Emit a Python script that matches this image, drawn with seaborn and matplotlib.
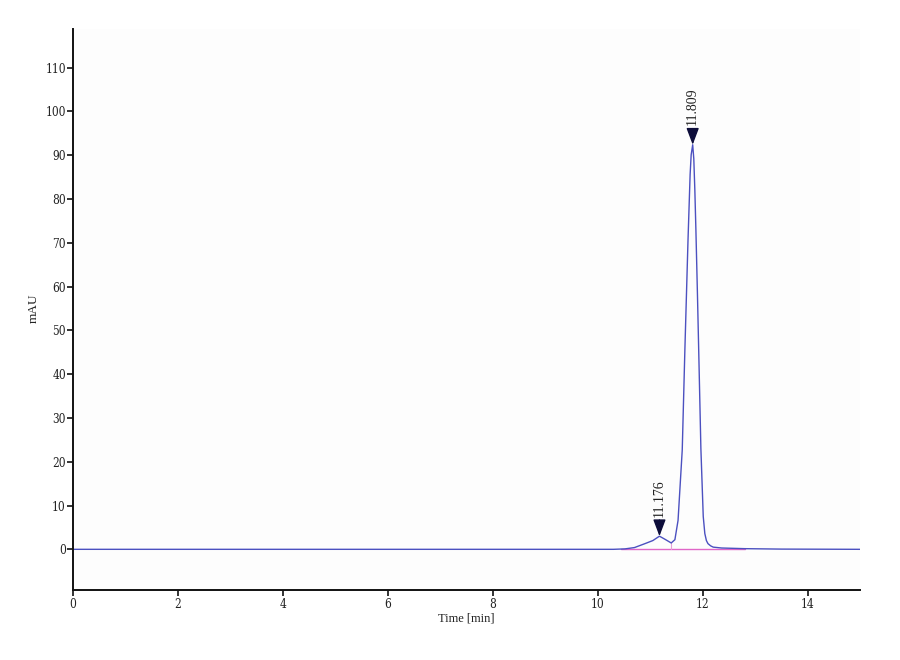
import numpy as np
import pandas as pd
import matplotlib
matplotlib.use("Agg")
import matplotlib.pyplot as plt
from matplotlib import font_manager as fm
import seaborn as sns

# ---- data ----
time_min = [0.0, 10.30, 10.52, 10.70, 10.90, 11.05, 11.176, 11.28, 11.40, 11.47,
            11.53, 11.61, 11.66, 11.72, 11.76, 11.78, 11.809, 11.83, 11.85, 11.87,
            11.90, 11.93, 11.965, 12.01, 12.04, 12.07, 12.10, 12.15, 12.20, 12.36,
            12.80, 13.50, 15.00]
signal_mau = [0.0, 0.0, 0.1, 0.4, 1.3, 2.0, 3.0, 2.3, 1.45, 2.2,
              6.6, 22.7, 45.5, 70.7, 85.6, 90.1, 92.4, 89.2, 82.0, 73.0,
              58.0, 42.0, 23.0, 7.5, 3.6, 2.0, 1.3, 0.8, 0.5, 0.3,
              0.15, 0.05, 0.0]
baseline_t = [10.45, 12.80]
baseline_v = [0.0, 0.0]
drop_t = [11.40, 11.40]
drop_v = [0.0, 1.45]
peak_times = [11.176, 11.809]
peak_heights = [3.0, 92.4]
peak_labels = ["11.176", "11.809"]
yticks = list(range(0, 111, 10))
xticks = list(range(0, 15, 2))

sns.set_theme(style="ticks")
plt.rcParams["font.family"] = ["Liberation Serif", "DejaVu Serif"]

# condensed serif for tick labels if available
cond_fp = None
for f in fm.fontManager.ttflist:
    fn = f.fname.lower()
    if "serif" in f.name.lower() and "condensed" in fn:
        if "bold" not in fn and "italic" not in fn and "oblique" not in fn:
            cond_fp = fm.FontProperties(fname=f.fname, size=8.5)
            break
if cond_fp is None:
    cond_fp = fm.FontProperties(family=["Liberation Serif", "DejaVu Serif"], size=9)

fig = plt.figure(figsize=(9, 6.6), dpi=100)
fig.patch.set_facecolor("white")
ax = fig.add_axes([0.0808, 0.106, 0.875, 0.8495])
ax.set_facecolor("#fdfdfd")

df = pd.DataFrame({"t": time_min, "v": signal_mau})
sns.lineplot(data=df, x="t", y="v", ax=ax, color="#4b50c0", linewidth=1.0,
             estimator=None, sort=False)
ax.plot(baseline_t, baseline_v, color="#e066c8", linewidth=1.0, zorder=1)
ax.plot(drop_t, drop_v, color="#e8a0d8", linewidth=0.8, zorder=1)

for t, h, lab in zip(peak_times, peak_heights, peak_labels):
    ax.annotate(lab, xy=(t, h), xytext=(0, 14), textcoords="offset points",
                rotation=90, ha="center", va="bottom", fontsize=10,
                color="#222222", family=["Liberation Serif", "DejaVu Serif"],
                arrowprops=dict(arrowstyle="-|>,head_length=0.85,head_width=0.32",
                                color="#0d0d3a", lw=1.0, shrinkA=0, shrinkB=0,
                                mutation_scale=12))

ax.set_xlim(0, 15)
ax.set_ylim(-9.3, 118.75)
ax.set_xticks(xticks)
ax.set_yticks(yticks)
ax.set_xticklabels([str(x) for x in xticks])
ax.set_yticklabels([str(y) for y in yticks])
for lab in ax.get_xticklabels() + ax.get_yticklabels():
    lab.set_fontproperties(cond_fp)
    lab.set_color("#222222")

ax.tick_params(axis="y", direction="out", length=4, width=1.2, color="#111111", pad=1.0)
ax.tick_params(axis="x", direction="out", length=4, width=1.2, color="#111111", pad=2.0)
for s in ["top", "right"]:
    ax.spines[s].set_visible(False)
for s in ["left", "bottom"]:
    ax.spines[s].set_color("#111111")
    ax.spines[s].set_linewidth(1.4)

ax.set_xlabel("Time [min]", fontsize=9, color="#222222")
ax.set_ylabel("mAU", fontsize=9.5, color="#222222")
ax.xaxis.set_label_coords(0.5, -0.04)
ax.yaxis.set_label_coords(-0.0415, 0.503)
ax.grid(False)

fig.savefig("out.png", dpi=100, facecolor="white")
